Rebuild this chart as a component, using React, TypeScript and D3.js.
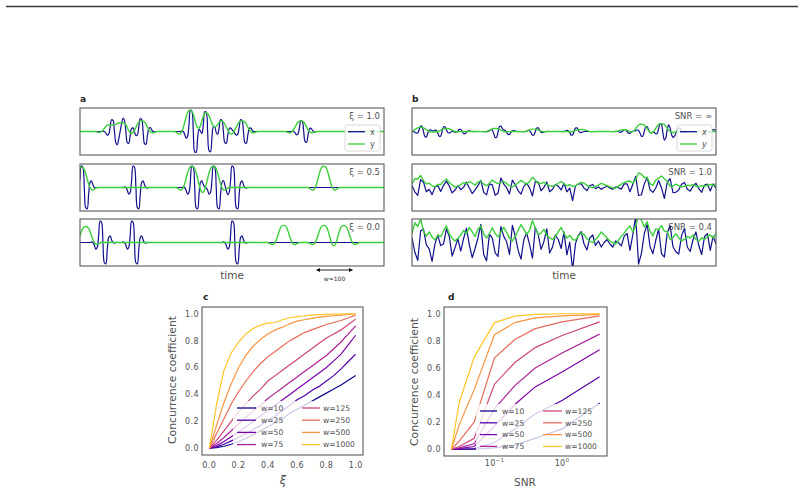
import * as d3 from 'd3'

const FONT = '"DejaVu Sans", Verdana, sans-serif'
const INK = '#505050'
const FRAME = '#5a5a5a'
const X_COLOR = '#10108c'
const Y_COLOR = '#3ccf3c'

// trace panels: time in samples, one point every STEP samples
const T_END = 848
const STEP = 4
const NOISE_STEP = 8
const W_ARROW = [660, 760]

// wavelet shapes on the STEP grid (x: oscillating burst, y: bump)
const BLUE_KERNEL = [0.03, 0, -0.13, -0.31, -0.23, 0.33, 1, 0.95, 0, -0.95, -1, -0.33, 0.23, 0.31, 0.13, 0, -0.03]
const GREEN_KERNEL = [-0.03, -0.08, -0.12, -0.1, 0, 0.18, 0.42, 0.68, 0.88, 0.98, 1, 0.98, 0.88, 0.68, 0.42, 0.18, 0, -0.1, -0.12, -0.08, -0.03]

// panel a: [time, amplitude] of each event
const XI_LABELS = ['1.0', '0.5', '0.0']
const XI10_X = [[94, 0.55], [127, 0.55], [175, 0.6], [315, 1.0], [355, 0.95], [401, 0.55], [455, 0.55], [623, 0.5]]
const XI10_Y = [[84, 0.35], [117, 0.45], [172, 0.5], [308, 1.0], [350, 0.9], [392, 0.5], [452, 0.5], [615, 0.5]]
const XI05_X = [[11, 1.0], [156, 1.0], [318, 1.0], [380, 1.0], [431, 1.0]]
const XI05_Y = [[5, 0.95], [312, 1.0], [373, 1.0], [680, 1.0]]
const XI00_X = [[62, 1.0], [151, 1.0], [431, 1.0]]
const XI00_Y = [[14, 0.75], [569, 0.8], [680, 0.8], [736, 0.8]]

// panel b: clean events plus one noise realisation, scaled by 1/SNR
const SNR_LABELS = ['∞', '1.0', '0.4']
const SNR_LEVELS = [Infinity, 1.0, 0.4]
const SNR_X = [[30, 0.9], [85, -0.8], [139, 0.35], [239, -1.0], [263, 0.5], [344, -0.6], [451, -0.6], [600, 0.3], [647, -0.8], [698, 1.3], [721, 0.8], [740, -0.5], [847, 0.3]]
const SNR_Y = [[24, 0.7], [97, 0.5], [232, 0.5], [339, 0.4], [470, 0.35], [590, 0.3], [638, 1.2], [694, 1.3]]
const X_NOISE = [
  0.3, -0.6, -1.1, 0.4, 0.9, 0.2, -0.5, -1.3, -0.2, 0.6,
  0.1, -0.4, 0.8, 0.5, -0.9, -0.3, 0.2, -0.7, 0.4, 1.0,
  -0.2, -1.0, -0.4, 0.3, 1.2, -0.8, -1.2, 0.5, 0.2, -0.3,
  -0.9, 0.7, 0.3, 0.1, -0.6, 1.1, 0.4, -0.5, -1.1, 0.2,
  0.6, -0.2, -0.8, 1.0, 0.3, -0.4, 0.1, 0.9, -0.7, -0.3,
  0.5, 0.2, -0.4, 0.7, -0.9, 0.1, -1.6, -0.3, 0.4, 0.8,
  -0.1, -0.5, 0.3, 0.5, -0.2, 0.1, -0.3, 0.0, 0.2, -0.1,
  -0.3, 0.1, 0.0, -0.2, 0.3, 0.6, -0.4, 0.5, 1.7, -1.5,
  -0.4, 0.6, 0.9, -0.2, -0.7, 0.3, 0.7, -1.2, -0.4, 0.5,
  0.9, 0.1, -0.5, -1.0, 0.4, 1.0, -0.3, -0.6, 0.2, 0.7,
  -0.2, -0.8, 0.4, 0.6, -0.5, 0.3, -0.1,
]
const Y_NOISE = [
  0.6, 1.2, 0.8, 1.3, 0.5, 0.3, 0.7, 0.4, 0.2, 0.5,
  0.3, 0.6, 0.9, 0.4, 0.2, 0.1, 0.3, 0.5, 0.8, 0.6,
  1.0, 0.7, 0.4, 0.9, 1.1, 0.6, 0.3, 0.5, 0.8, 0.4,
  0.2, 0.6, 1.0, 0.7, 0.3, 0.1, 0.4, 0.8, 1.2, 0.9,
  0.5, 0.7, 1.3, 0.8, 0.4, 0.6, 0.9, 0.5, 0.3, 0.2,
  0.4, 0.7, 1.0, 0.6, 0.3, 0.5, 0.2, 0.1, 0.3, 0.5,
  0.4, 0.2, 0.1, 0.0, 0.2, 0.4, 0.7, 0.5, 0.3, 0.1,
  0.0, -0.1, 0.1, 0.3, 0.5, 0.8, 1.1, 0.7, 0.9, 1.4,
  1.0, 0.6, 1.2, 0.8, 0.5, 0.7, 0.4, 0.6, 0.3, 0.5,
  0.2, 0.4, 0.6, 0.3, 0.1, 0.2, 0.4, 0.3, 0.5, 0.2,
  0.1, 0.3, 0.2, 0.4, 0.5, 0.3, 0.6,
]

// panel c: concurrence vs xi
const W_LABELS = ['w=10', 'w=25', 'w=50', 'w=75', 'w=125', 'w=250', 'w=500', 'w=1000']
const XI_VALUES = [0, 0.05, 0.1, 0.15, 0.2, 0.25, 0.3, 0.35, 0.4, 0.45, 0.5, 0.55, 0.6, 0.65, 0.7, 0.75, 0.8, 0.85, 0.9, 0.95, 1.0]
const XI_W10 = [0, 0.005, 0.015, 0.03, 0.05, 0.075, 0.1, 0.13, 0.16, 0.19, 0.22, 0.26, 0.29, 0.32, 0.35, 0.38, 0.41, 0.44, 0.47, 0.505, 0.54]
const XI_W25 = [0, 0.01, 0.03, 0.055, 0.08, 0.11, 0.14, 0.17, 0.21, 0.24, 0.28, 0.32, 0.36, 0.39, 0.43, 0.46, 0.5, 0.54, 0.59, 0.645, 0.7]
const XI_W50 = [0, 0.02, 0.05, 0.085, 0.12, 0.16, 0.2, 0.24, 0.28, 0.32, 0.36, 0.4, 0.44, 0.48, 0.52, 0.56, 0.6, 0.65, 0.7, 0.77, 0.84]
const XI_W75 = [0, 0.035, 0.08, 0.13, 0.18, 0.23, 0.28, 0.32, 0.37, 0.41, 0.45, 0.49, 0.53, 0.57, 0.61, 0.65, 0.69, 0.74, 0.79, 0.85, 0.91]
const XI_W125 = [0, 0.06, 0.13, 0.2, 0.27, 0.33, 0.39, 0.44, 0.5, 0.54, 0.58, 0.62, 0.66, 0.7, 0.74, 0.78, 0.82, 0.85, 0.88, 0.92, 0.96]
const XI_W250 = [0, 0.11, 0.22, 0.33, 0.42, 0.5, 0.57, 0.63, 0.68, 0.72, 0.76, 0.8, 0.83, 0.86, 0.88, 0.9, 0.92, 0.935, 0.95, 0.97, 0.99]
const XI_W500 = [0, 0.17, 0.34, 0.48, 0.6, 0.69, 0.76, 0.81, 0.85, 0.88, 0.9, 0.925, 0.945, 0.955, 0.965, 0.975, 0.98, 0.985, 0.99, 0.995, 1.0]
const XI_W1000 = [0, 0.33, 0.58, 0.71, 0.79, 0.85, 0.89, 0.915, 0.93, 0.935, 0.955, 0.97, 0.978, 0.985, 0.99, 0.993, 0.995, 0.997, 0.998, 0.999, 1.0]

// panel d: concurrence vs SNR
const SNR_VALUES = [0.023, 0.03, 0.05, 0.1, 0.2, 0.4, 1.0, 3.6]
const SNR_W10 = [0, 0, 0, 0.01, 0.03, 0.08, 0.15, 0.34]
const SNR_W25 = [0, 0, 0.005, 0.05, 0.15, 0.26, 0.36, 0.535]
const SNR_W50 = [0, 0.005, 0.02, 0.17, 0.33, 0.46, 0.57, 0.735]
const SNR_W75 = [0, 0.01, 0.04, 0.3, 0.47, 0.6, 0.71, 0.85]
const SNR_W125 = [0, 0.02, 0.08, 0.48, 0.64, 0.75, 0.84, 0.94]
const SNR_W250 = [0, 0.06, 0.2, 0.675, 0.81, 0.89, 0.94, 0.985]
const SNR_W500 = [0, 0.18, 0.44, 0.845, 0.935, 0.97, 0.985, 0.995]
const SNR_W1000 = [0, 0.345, 0.68, 0.935, 0.983, 0.995, 1.0, 1.0]

const W_COLORS = W_LABELS.map((_, i) => d3.interpolatePlasma(i / 8))

const TRACE_TOPS = [108, 164, 219]
const TRACE_H = 47
const TRACE_W = 304

type Pt = { t: number; v: number }

function buildTrace(events: number[][], kernel: number[]): Pt[] {
  const n = Math.floor(T_END / STEP) + 1
  const mid = (kernel.length - 1) / 2
  const vals = new Array(n).fill(0)
  events.forEach(([t, a]) => {
    const c = Math.round(t / STEP)
    kernel.forEach((k, j) => {
      const i = c + j - mid
      if (i >= 0 && i < n) vals[i] += a * k
    })
  })
  return vals.map((v, i) => ({ t: i * STEP, v }))
}

function withNoise(trace: Pt[], noise: number[], snr: number): Pt[] {
  if (!isFinite(snr)) return trace
  const k = NOISE_STEP / STEP
  return noise.map((e, i) => ({
    t: i * NOISE_STEP,
    v: trace[Math.min(i * k, trace.length - 1)].v + e / snr,
  }))
}

function TracePanel({ id, left, top, xTrace, yTrace, yMax, label, smooth, legend, italic }: any) {
  const xs = d3.scaleLinear().domain([0, T_END]).range([left, left + TRACE_W])
  const ys = d3.scaleLinear().domain([-yMax, yMax]).range([top + TRACE_H, top])
  const line = d3.line<Pt>().x(d => xs(d.t)).y(d => ys(d.v))
    .curve(smooth ? d3.curveCatmullRom : d3.curveLinear)
  const right = left + TRACE_W
  return (
    <g>
      <clipPath id={id}>
        <rect x={left} y={top} width={TRACE_W} height={TRACE_H} />
      </clipPath>
      <g clipPath={`url(#${id})`}>
        <path d={line(xTrace) || ''} fill="none" stroke={X_COLOR} strokeWidth={1.2} strokeLinejoin="round" />
        <path d={line(yTrace) || ''} fill="none" stroke={Y_COLOR} strokeWidth={1.4} strokeLinejoin="round" />
      </g>
      <rect x={left} y={top} width={TRACE_W} height={TRACE_H} fill="none" stroke={FRAME} strokeWidth={1.1} />
      <text x={right - 4} y={top + 10.5} textAnchor="end" fontSize={8.5} fill={INK}>{label}</text>
      {legend && (
        <g>
          <rect x={right - 39} y={top + 17} width={35} height={26} rx={2}
            fill="#fff" fillOpacity={0.8} stroke="#d0d0d0" strokeWidth={0.8} />
          <line x1={right - 36} x2={right - 19} y1={top + 23.7} y2={top + 23.7} stroke={X_COLOR} strokeWidth={1.3} />
          <line x1={right - 36} x2={right - 19} y1={top + 36} y2={top + 36} stroke={Y_COLOR} strokeWidth={1.3} />
          <text x={right - 14} y={top + 26.5} fontSize={8} fill={INK} fontStyle={italic ? 'italic' : 'normal'}>x</text>
          <text x={right - 14} y={top + 38.8} fontSize={8} fill={INK} fontStyle={italic ? 'italic' : 'normal'}>y</text>
        </g>
      )}
    </g>
  )
}

function ConcurrencePanel({ left, top, width, height, xScale, xValues, curves, xTicks, tickLabel, legend }: any) {
  const bottom = top + height
  const ys = d3.scaleLinear().domain([-0.05, 1.05]).range([bottom, top])
  const line = d3.line<number>().x((_, i) => xScale(xValues[i])).y(d => ys(d))
  const yTicks = d3.range(0, 1.01, 0.2)
  return (
    <g>
      {curves.map((c: number[], i: number) => (
        <path key={i} d={line(c) || ''} fill="none" stroke={W_COLORS[i]} strokeWidth={1.2} />
      ))}
      <rect x={legend.x0} y={legend.y0} width={legend.x1 - legend.x0} height={legend.y1 - legend.y0}
        fill="#fff" fillOpacity={0.78} />
      {W_LABELS.map((lab, i) => {
        const col = Math.floor(i / 4)
        const y = legend.rowY + (i % 4) * legend.rowStep
        const h = legend.cols[col]
        return (
          <g key={lab}>
            <line x1={h[0]} x2={h[1]} y1={y} y2={y} stroke={W_COLORS[i]} strokeWidth={1.3} />
            <text x={h[2]} y={y + 2.8} fontSize={7.6} fill={INK}>{lab}</text>
          </g>
        )
      })}
      <rect x={left} y={top} width={width} height={height} fill="none" stroke={FRAME} strokeWidth={1.1} />
      {yTicks.map(t => (
        <text key={t} x={left - 3} y={ys(t) + 2.9} textAnchor="end" fontSize={8} letterSpacing={0.4} fill={INK}>
          {d3.format('.1f')(t)}
        </text>
      ))}
      {xTicks.map((t: number) => (
        <g key={t}>{tickLabel(t, xScale(t), bottom)}</g>
      ))}
    </g>
  )
}

export default function App() {
  const xiPanels = [
    { x: XI10_X, y: XI10_Y },
    { x: XI05_X, y: XI05_Y },
    { x: XI00_X, y: XI00_Y },
  ]
  const snrX = buildTrace(SNR_X, BLUE_KERNEL)
  const snrY = buildTrace(SNR_Y, GREEN_KERNEL)

  const aTime = d3.scaleLinear().domain([0, T_END]).range([80, 80 + TRACE_W])

  const xiScale = d3.scaleLinear().domain([-0.05, 1.05]).range([202, 363])
  const logLo = Math.log10(SNR_VALUES[0])
  const logHi = Math.log10(SNR_VALUES[SNR_VALUES.length - 1])
  const pad = (logHi - logLo) * 0.05
  const snrScale = d3.scaleLog().domain([10 ** (logLo - pad), 10 ** (logHi + pad)]).range([444, 607])

  const xiCurves = [XI_W10, XI_W25, XI_W50, XI_W75, XI_W125, XI_W250, XI_W500, XI_W1000]
  const snrCurves = [SNR_W10, SNR_W25, SNR_W50, SNR_W75, SNR_W125, SNR_W250, SNR_W500, SNR_W1000]

  return (
    <div style={{ position: 'absolute', left: 0, top: 0 }}>
      <svg width={804} height={493} style={{ display: 'block', fontFamily: FONT }}>
        <defs>
          <marker id="arrowhead" viewBox="0 0 10 10" refX={9} refY={5} markerWidth={4.5} markerHeight={4.5}
            orient="auto-start-reverse">
            <path d="M0,0 L10,5 L0,10 z" fill="#111" />
          </marker>
        </defs>
        <rect width={804} height={493} fill="#fff" />
        <line x1={6} x2={798} y1={6.6} y2={6.6} stroke="#3a3a3a" strokeWidth={1.5} />

        {/* a: concurrence level xi */}
        <text x={80} y={102} fontSize={9} fontWeight="bold" fill="#222">a</text>
        {xiPanels.map((p, i) => (
          <TracePanel key={i} id={`clip-a${i}`} left={80} top={TRACE_TOPS[i]}
            xTrace={buildTrace(p.x, BLUE_KERNEL)} yTrace={buildTrace(p.y, GREEN_KERNEL)}
            yMax={1.1} smooth label={`ξ = ${XI_LABELS[i]}`} legend={i === 0} />
        ))}
        <text x={232} y={279} textAnchor="middle" fontSize={10.5} fill={INK}>time</text>
        <line x1={aTime(W_ARROW[0])} x2={aTime(W_ARROW[1])} y1={270} y2={270} stroke="#111" strokeWidth={0.9}
          markerStart="url(#arrowhead)" markerEnd="url(#arrowhead)" />
        <text x={aTime((W_ARROW[0] + W_ARROW[1]) / 2)} y={281} textAnchor="middle" fontSize={6} fill="#333">w=100</text>

        {/* b: signal-to-noise ratio */}
        <text x={412} y={102} fontSize={9} fontWeight="bold" fill="#222">b</text>
        {SNR_LEVELS.map((snr, i) => (
          <TracePanel key={i} id={`clip-b${i}`} left={412} top={TRACE_TOPS[i]}
            xTrace={withNoise(snrX, X_NOISE, snr)} yTrace={withNoise(snrY, Y_NOISE, snr)}
            yMax={3.9} smooth={!isFinite(snr)} label={`SNR = ${SNR_LABELS[i]}`} legend={i === 0} italic />
        ))}
        <text x={564} y={279} textAnchor="middle" fontSize={10.5} fill={INK}>time</text>

        {/* c */}
        <text x={203} y={300} fontSize={9} fontWeight="bold" fill="#222">c</text>
        <ConcurrencePanel left={202} top={307} width={161} height={148}
          xScale={xiScale} xValues={XI_VALUES} curves={xiCurves}
          xTicks={[0, 0.2, 0.4, 0.6, 0.8, 1.0]}
          tickLabel={(t: number, x: number, b: number) => (
            <text x={x} y={b + 13} textAnchor="middle" fontSize={8} letterSpacing={0.4} fill={INK}>
              {d3.format('.1f')(t)}
            </text>
          )}
          legend={{ x0: 233, x1: 361, y0: 401, y1: 452, rowY: 408, rowStep: 12.2,
            cols: [[237, 256, 261], [302, 320, 323]] }} />
        <text transform="translate(175.5,380) rotate(-90)" textAnchor="middle" fontSize={10.8} fill={INK}>
          Concurrence coefficient
        </text>
        <text x={283} y={484} textAnchor="middle" fontSize={11.5} fontStyle="italic" fill={INK}>ξ</text>

        {/* d */}
        <text x={448} y={300} fontSize={9} fontWeight="bold" fill="#222">d</text>
        <ConcurrencePanel left={444} top={307} width={163} height={149}
          xScale={snrScale} xValues={SNR_VALUES} curves={snrCurves}
          xTicks={[0.1, 1]}
          tickLabel={(t: number, x: number, b: number) => (
            <text x={x} y={b + 9.5} textAnchor="middle" fontSize={8} letterSpacing={0.3} fill={INK}>
              10<tspan dy={-3.5} fontSize={5.5}>{t < 1 ? '−1' : '0'}</tspan>
            </text>
          )}
          legend={{ x0: 476, x1: 602, y0: 404, y1: 452, rowY: 411, rowStep: 11.8,
            cols: [[480, 497, 502], [543, 562, 565]] }} />
        <text transform="translate(418,382) rotate(-90)" textAnchor="middle" fontSize={10.8} fill={INK}>
          Concurrence coefficient
        </text>
        <text x={525} y={485.5} textAnchor="middle" fontSize={10.5} fill={INK}>SNR</text>
      </svg>
    </div>
  )
}
